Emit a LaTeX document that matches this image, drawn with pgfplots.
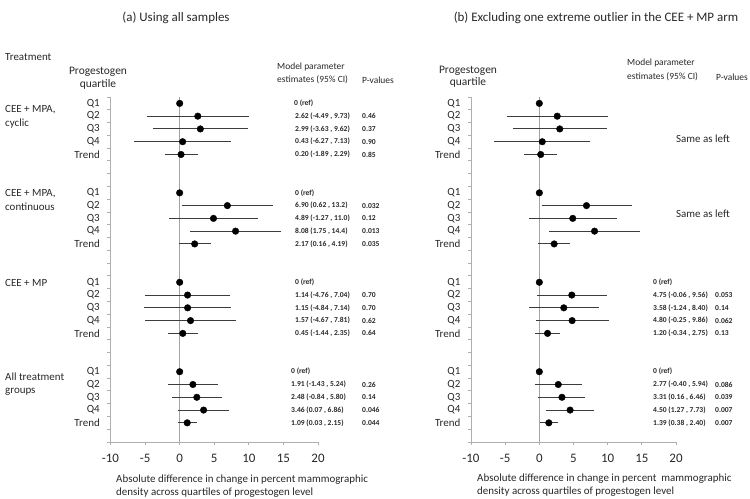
\documentclass[border=0pt]{standalone}
\usepackage{pgfplots}
\pgfplotsset{compat=1.18}
\usepackage{pgfplotstable}
\usepackage{fontspec}
\setmainfont{Carlito}

\definecolor{axgray}{RGB}{175,175,175}
\definecolor{zeroline}{RGB}{140,165,208}
\definecolor{barcol}{RGB}{60,60,60}
\definecolor{txt}{RGB}{40,40,40}

\newcommand{\fs}[1]{\fontsize{#1}{#1}\selectfont}

\pgfplotstableread{
y x lo hi
0 0 0 0
-1 2.62 -4.49 9.73
-2 2.99 -3.63 9.62
-3 0.43 -6.27 7.13
-4 0.20 -1.89 2.29
-7 0 0 0
-8 6.90 0.62 13.2
-9 4.89 -1.27 11.0
-10 8.08 1.75 14.4
-11 2.17 0.16 4.19
-14 0 0 0
-15 1.14 -4.76 7.04
-16 1.15 -4.84 7.14
-17 1.57 -4.67 7.81
-18 0.45 -1.44 2.35
-21 0 0 0
-22 1.91 -1.43 5.24
-23 2.48 -0.84 5.80
-24 3.46 0.07 6.86
-25 1.09 0.03 2.15
}\dataA

\pgfplotstableread{
y x lo hi
0 0 0 0
-1 2.62 -4.49 9.73
-2 2.99 -3.63 9.62
-3 0.43 -6.27 7.13
-4 0.20 -1.89 2.29
-7 0 0 0
-8 6.90 0.62 13.2
-9 4.89 -1.27 11.0
-10 8.08 1.75 14.4
-11 2.17 0.16 4.19
-14 0 0 0
-15 4.75 -0.06 9.56
-16 3.58 -1.24 8.40
-17 4.80 -0.25 9.86
-18 1.20 -0.34 2.75
-21 0 0 0
-22 2.77 -0.40 5.94
-23 3.31 0.16 6.46
-24 4.50 1.27 7.73
-25 1.39 0.38 2.40
}\dataB

\pgfplotsset{
  forest/.style={
    scale only axis,
    height=345bp,
    xmin=-10, xmax=20, ymin=-26.5, ymax=0.5,
    clip=false,
    axis x line*=bottom, axis y line*=left,
    axis line style={axgray, line width=0.8pt},
    tick align=outside,
    xtick={-10,-5,0,5,10,15,20},
    xticklabels={-10,-5,0,5,10,15,20},
    xticklabel style={font=\fs{13}, text=txt, inner sep=0pt, yshift=-8bp},
    x tick style={axgray, line width=0.8pt},
    major tick length=3.5bp,
    ytick={0.5,-0.5,...,-26.5},
    yticklabels={},
    y tick style={axgray, line width=0.8pt},
    extra y ticks={0,-1,-2,-3,-4,-7,-8,-9,-10,-11,-14,-15,-16,-17,-18,-21,-22,-23,-24,-25},
    extra y tick labels={Q1,Q2,Q3,Q4,Trend,Q1,Q2,Q3,Q4,Trend,Q1,Q2,Q3,Q4,Trend,Q1,Q2,Q3,Q4,Trend},
    extra y tick style={tick style={draw=none}, yticklabel style={font=\fs{11}, text=txt, inner sep=0pt, xshift=-7bp}},
  },
}
\tikzset{est/.style={anchor=west, inner sep=0pt, font=\fs{7.6}\bfseries, text=txt}}
% text in a row of the forest plot, x in bp from the left edge, row counted from the top
\newcommand{\E}[3]{\node[est] at (#1bp,{(57+(26.5-#2)*12.77778)*1bp}) {#3};}

\newcommand{\forestplot}[1]{%
  \draw[zeroline, line width=0.9pt] (axis cs:0,0.5) -- (axis cs:0,-26.5);
  \addplot[only marks, mark=*, mark size=3.3bp, black,
    error bars/.cd, x dir=both, x explicit,
    error bar style={barcol, line width=0.9pt},
    error mark options={barcol, line width=0.9pt, mark size=2bp}]
    table[x=x, y=y,
      x error plus expr=\thisrow{hi}-\thisrow{x},
      x error minus expr=\thisrow{x}-\thisrow{lo}] {#1};
}

\begin{document}
\begin{tikzpicture}
\useasboundingbox (0,0) rectangle (750bp,499bp);

% ---------- panel (a)
\begin{axis}[forest, at={(110.5bp,57bp)}, anchor=south west, width=207.5bp]
\forestplot{\dataA}
\end{axis}

% ---------- panel (b)
\begin{axis}[forest, at={(471bp,57bp)}, anchor=south west, width=205bp]
\forestplot{\dataB}
\end{axis}

\E{294}{0}{0 (ref)}
\E{295}{1}{2.62 (-4.49 , 9.73)} \E{362}{1}{0.46}
\E{295}{2}{2.99 (-3.63 , 9.62)} \E{362}{2}{0.37}
\E{295}{3}{0.43 (-6.27 , 7.13)} \E{362}{3}{0.90}
\E{295}{4}{0.20 (-1.89 , 2.29)} \E{362}{4}{0.85}
\E{295}{7}{0 (ref)}
\E{295}{8}{6.90 (0.62 , 13.2)} \E{362}{8}{0.032}
\E{295}{9}{4.89 (-1.27 , 11.0)} \E{362}{9}{0.12}
\E{295}{10}{8.08 (1.75 , 14.4)} \E{362}{10}{0.013}
\E{295}{11}{2.17 (0.16 , 4.19)} \E{362}{11}{0.035}
\E{295}{14}{0 (ref)}
\E{295}{15}{1.14 (-4.76 , 7.04)} \E{362}{15}{0.70}
\E{295}{16}{1.15 (-4.84 , 7.14)} \E{362}{16}{0.70}
\E{295}{17}{1.57 (-4.67 , 7.81)} \E{362}{17}{0.62}
\E{295}{18}{0.45 (-1.44 , 2.35)} \E{362}{18}{0.64}
\E{291}{21}{0 (ref)}
\E{291}{22}{1.91 (-1.43 , 5.24)} \E{362}{22}{0.26}
\E{291}{23}{2.48 (-0.84 , 5.80)} \E{362}{23}{0.14}
\E{291}{24}{3.46 (0.07 , 6.86)} \E{362}{24}{0.046}
\E{291}{25}{1.09 (0.03 , 2.15)} \E{362}{25}{0.044}

\E{653}{14}{0 (ref)}
\E{653}{15}{4.75 (-0.06 , 9.56)} \E{715}{15}{0.053}
\E{653}{16}{3.58 (-1.24 , 8.40)} \E{715}{16}{0.14}
\E{653}{17}{4.80 (-0.25 , 9.86)} \E{715}{17}{0.062}
\E{653}{18}{1.20 (-0.34 , 2.75)} \E{715}{18}{0.13}
\E{653}{21}{0 (ref)}
\E{653}{22}{2.77 (-0.40 , 5.94)} \E{715}{22}{0.086}
\E{653}{23}{3.31 (0.16 , 6.46)} \E{715}{23}{0.039}
\E{653}{24}{4.50 (1.27 , 7.73)} \E{715}{24}{0.007}
\E{653}{25}{1.39 (0.38 , 2.40)} \E{715}{25}{0.007}

% ---------- titles and headers
\begin{scope}[every node/.style={inner sep=0pt, text=txt}]
\node[font=\fs{13}] at (176bp,481bp) {(a) Using all samples};
\node[font=\fs{13}] at (596bp,481bp) {(b) Excluding one extreme outlier in the CEE + MP arm};

\node[anchor=base west, font=\fs{11}] at (5bp,438bp) {Treatment};

\node[font=\fs{11.5}] at (98bp,427bp) {Progestogen};
\node[font=\fs{11.5}] at (98bp,415bp) {quartile};
\node[font=\fs{11.5}] at (468bp,428bp) {Progestogen};
\node[font=\fs{11.5}] at (468bp,417bp) {quartile};

\node[anchor=west, font=\fs{9.5}] at (277bp,432bp) {Model parameter};
\node[anchor=west, font=\fs{9.5}] at (277bp,419bp) {estimates (95\% CI)};
\node[anchor=west, font=\fs{9.5}] at (362bp,419bp) {P-values};
\node[anchor=west, font=\fs{9.5}] at (627bp,436bp) {Model parameter};
\node[anchor=west, font=\fs{9.5}] at (627bp,422bp) {estimates (95\% CI)};
\node[anchor=west, font=\fs{9.5}] at (716bp,422bp) {P-values};

\node[anchor=west, font=\fs{11}] at (676bp,360bp) {Same as left};
\node[anchor=west, font=\fs{11}] at (676bp,285bp) {Same as left};

\node[anchor=base west, font=\fs{11}] at (5bp,386bp) {CEE + MPA,};
\node[anchor=base west, font=\fs{11}] at (5bp,372.5bp) {cyclic};
\node[anchor=base west, font=\fs{11}] at (5bp,302bp) {CEE + MPA,};
\node[anchor=base west, font=\fs{11}] at (5bp,288bp) {continuous};
\node[anchor=base west, font=\fs{11}] at (5bp,212bp) {CEE + MP};
\node[anchor=base west, font=\fs{11}] at (5bp,118bp) {All treatment};
\node[anchor=base west, font=\fs{11}] at (5bp,105bp) {groups};

\node[anchor=base west, font=\fs{11}] at (116bp,17bp) {Absolute difference in change in percent mammographic};
\node[anchor=base west, font=\fs{11}] at (116bp,4bp) {density across quartiles of progestogen level};
\node[anchor=base west, font=\fs{11}] at (477bp,18bp) {Absolute difference in change in percent\ \ mammographic};
\node[anchor=base west, font=\fs{11}] at (477bp,5bp) {density across quartiles of progestogen level};
\end{scope}
\end{tikzpicture}
\end{document}
